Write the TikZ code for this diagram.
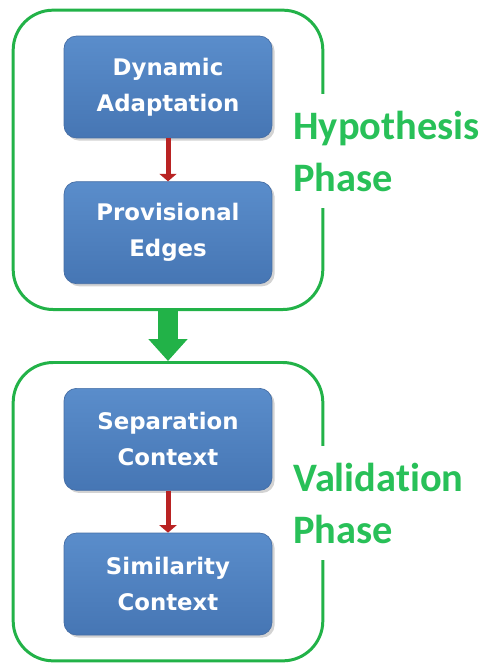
\documentclass[tikz,border=0pt]{standalone}
\usepackage{fontspec}
\usepackage{xcolor}
\usetikzlibrary{positioning,fit,shadows,arrows.meta}
\newfontfamily\boxfont{DejaVu Sans}
\newfontfamily\phasefont[Ligatures={NoCommon,NoContextual},Contextuals=NoAlternate]{Carlito}
\definecolor{boxtop}{RGB}{90,141,203}
\definecolor{boxbottom}{RGB}{70,118,180}
\definecolor{boxline}{RGB}{70,110,165}
\definecolor{phasegreen}{RGB}{34,178,72}
\definecolor{labelgreen}{RGB}{40,192,88}
\definecolor{arrowred}{RGB}{185,35,35}

\begin{document}
\begin{tikzpicture}[x=0.02cm, y=-0.02cm,
    stepbox/.style={draw=boxline, line width=0.4pt, rounded corners=0.25cm,
        top color=boxtop, bottom color=boxbottom,
        minimum width=4.16cm, minimum height=2.04cm,
        text=white, align=center,
        font=\boxfont\bfseries\fontsize{13}{20.5}\selectfont,
        drop shadow={shadow xshift=1.5pt, shadow yshift=-1.5pt, opacity=0.35}},
    phasebox/.style={draw=phasegreen, line width=1.7pt, rounded corners=0.8cm,
        inner xsep=1.01cm, inner ysep=0.51cm},
    phaselabel/.style={fill=white, text=labelgreen, align=left, anchor=west,
        inner xsep=0pt, minimum height=2.3cm,
        font=\phasefont\bfseries\fontsize{23}{29.6}\selectfont},
    redarrow/.style={draw=arrowred, line width=0.1cm,
        -{Triangle[width=0.34cm, length=0.15cm]}},
    greenarrow/.style={draw=phasegreen, line width=0.4cm,
        -{Triangle[width=0.76cm, length=0.44cm]}}]
    \useasboundingbox (0,0) rectangle (488,667);

    % hypothesis phase
    \node[stepbox] (dyn) at (168,87) {Dynamic\\Adaptation};
    \node[stepbox, below=0.86cm of dyn] (prov) {Provisional\\Edges};
    \node[phasebox, fit=(dyn) (prov)] (hyp) {};
    \node[phaselabel] (hyplabel) at (293,151) {Hypothesis\\Phase};

    % validation phase
    \node[stepbox, below=2.08cm of prov] (sep) {Separation\\Context};
    \node[stepbox, below=0.84cm of sep] (sim) {Similarity\\Context};
    \node[phasebox, fit=(sep) (sim)] (val) {};
    \node[phaselabel] (vallabel) at (293,503) {Validation\\Phase};

    \draw[redarrow] (dyn) -- (prov);
    \draw[redarrow] (sep) -- (sim);
    \draw[greenarrow] (hyp.south) -- (val.north);
\end{tikzpicture}
\end{document}
